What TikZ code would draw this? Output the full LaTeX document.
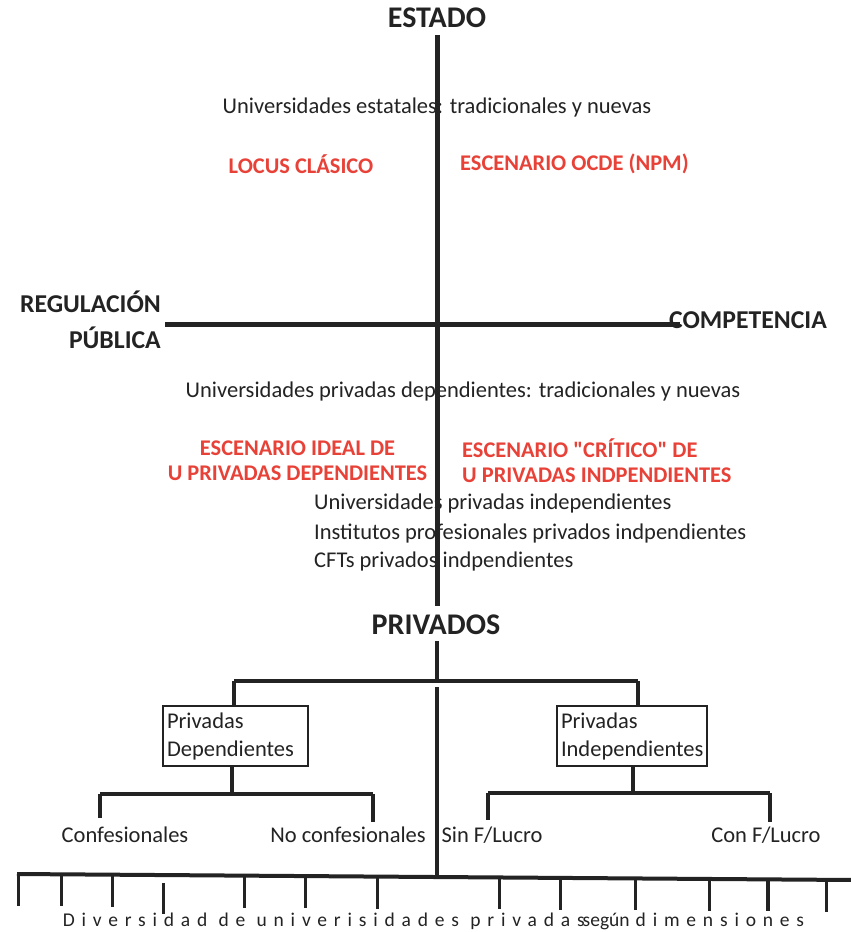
\documentclass[tikz,border=0pt]{standalone}
\usepackage{fontspec}
\usetikzlibrary{calc}
\setmainfont{Carlito}
\newfontfamily\spacedfont[LetterSpace=35]{Carlito}
\newcommand{\sq}{{\addfontfeature{Ligatures=TeXOff}"}}
\definecolor{ink}{RGB}{35,35,35}
\definecolor{redtxt}{RGB}{232,66,56}
\begin{document}
\begin{tikzpicture}[x=1pt,y=-1pt,
  txt/.style={inner sep=0pt,text=ink,font=\fontsize{22.5}{26}\selectfont},
  bigbold/.style={inner sep=0pt,text=ink,font=\fontsize{30}{34}\selectfont\bfseries},
  axbold/.style={inner sep=0pt,text=ink,font=\fontsize{25.7}{36}\selectfont\bfseries},
  redlab/.style={inner sep=0pt,text=redtxt,font=\fontsize{22.4}{25}\selectfont\bfseries},
  axis/.style={line width=5pt,draw=ink},
  tree/.style={line width=3.5pt,draw=ink},
  boxn/.style={draw=ink,line width=1.2pt,minimum height=60pt,inner sep=4pt,align=left,text=ink,font=\fontsize{22.5}{28}\selectfont},
  tick/.style={line width=3pt,draw=ink}]
\useasboundingbox[fill=white] (0,0) rectangle (851,932);
% texts
\node[bigbold] (estado) at (437,18) {ESTADO};
\node[txt] (estatales) at (437,107) {Universidades estatales: tradicionales y nuevas};
\node[redlab] (locus) at (301,164) {LOCUS CLÁSICO};
\node[redlab,anchor=west] (ocde) at (460,164) {ESCENARIO OCDE (NPM)};
\node[axbold,align=right,anchor=east] (regul) at (161,320) {REGULACIÓN\\PÚBLICA};
\node[axbold,anchor=west] (compet) at (669,320) {COMPETENCIA};
\node[txt] (privdep) at (463,391) {Universidades privadas dependientes: tradicionales y nuevas};
\node[redlab,align=center] (ideal) at (297.5,460.5) {ESCENARIO IDEAL DE\\U PRIVADAS DEPENDIENTES};
\node[redlab,align=left,anchor=west] (critico) at (462,460.5) {ESCENARIO \sq CRÍTICO\sq{} DE\\U PRIVADAS INDPENDIENTES};
\node[txt,anchor=west] (upi) at (314,503) {Universidades privadas independientes};
\node[txt,anchor=west] (ipi) at (314,533) {Institutos profesionales privados indpendientes};
\node[txt,anchor=west] (cft) at (314,561) {CFTs privados indpendientes};
\node[bigbold] (privados) at (436,625) {PRIVADOS};
\node[boxn,minimum width=145pt,text width=137pt] (bdep) at (235.5,736) {Privadas\\Dependientes};
\node[boxn,minimum width=150pt,text width=142pt] (bind) at (632,736) {Privadas\\Independientes};
\node[txt] (conf) at (125,835) {Confesionales};
\node[txt] (noconf) at (348,835) {No confesionales};
\node[txt] (sinf) at (492,835) {Sin F/Lucro};
\node[txt] (conf2) at (766,835) {Con F/Lucro};
\node[inner sep=0pt,text=ink,font=\fontsize{19.5}{22}\selectfont] (divers) at (433.5,921) {{\spacedfont Diversidad de univerisidades privadas}\hspace{-2pt}según\hspace{6pt}{\spacedfont dimensiones}};
% axis coordinates
\coordinate (vtop) at (437,35);
\coordinate (vbot) at (437,606);
\coordinate (hleft) at (165,324);
\coordinate (hright) at (680,324);
\draw[axis] (vtop) -- (vbot);
\draw[axis] (hleft) -- (hright);
% tree
\coordinate (stubtop) at (437,641);
\coordinate (j0) at (437,681);
\coordinate (jl) at (234,681);
\coordinate (jr) at (638,681);
\draw[tree] (stubtop) -- (j0);
\draw[tree] (jl) -- (jr);
\draw[tree] (jl) -- (jl |- bdep.north);
\draw[tree] (jr) -- (jr |- bind.north);
\coordinate (dl) at (232,794);
\coordinate (dll) at (100,794);
\coordinate (dlr) at (373,794);
\draw[tree] (dl |- bdep.south) -- (dl);
\draw[tree] (dll) -- (dlr);
\draw[tree] (dll) -- (100,818);
\draw[tree] (dlr) -- (373,822);
\coordinate (dr) at (633,793);
\coordinate (drl) at (488,793);
\coordinate (drr) at (770,793);
\draw[tree] (dr |- bind.south) -- (dr);
\draw[tree] (drl) -- (drr);
\draw[tree] (drl) -- (488,820);
\draw[tree] (drr) -- (770,822);
% lower vertical and base line
\coordinate (lowtop) at (437,687);
\coordinate (base) at (437,877);
\draw[axis,line width=4pt] (lowtop) -- (base);
\coordinate (bl) at (17,874);
\coordinate (br) at (853,880);
\draw[tree,line width=4pt] (bl) -- (br);
\foreach \xx in {19,62,113,245,306,378,500,560,636,710,768,826}{
  \draw[tick] ($(bl)!{(\xx-17)/836}!(br)$) -- ++(0,32);
}
\draw[tick] (163,883) -- (163,914);
\end{tikzpicture}
\end{document}
